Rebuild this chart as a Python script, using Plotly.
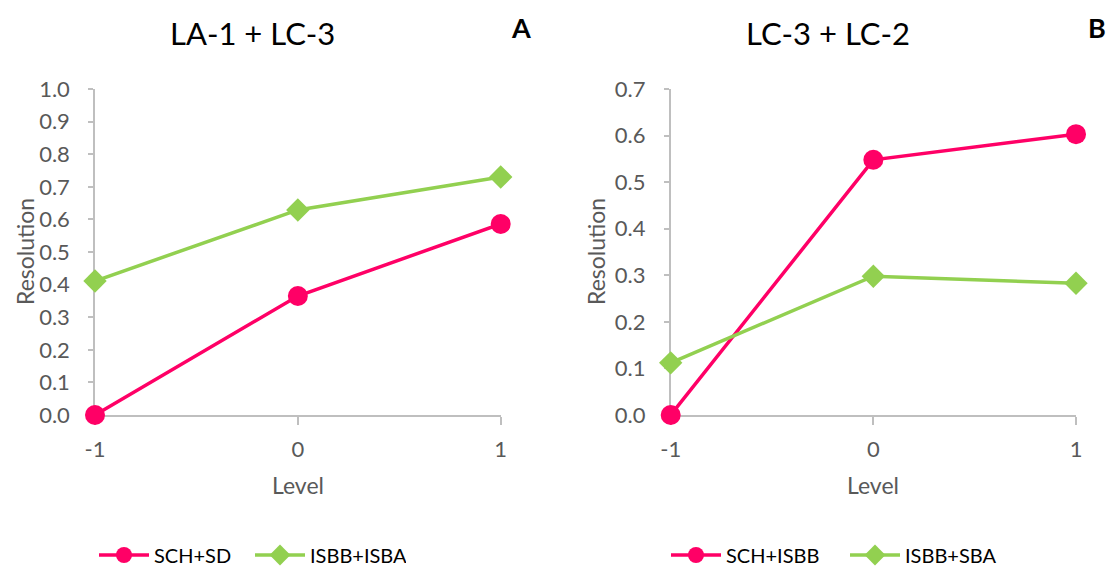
import plotly.graph_objects as go

levels = [-1, 0, 1]
a_sch_sd = [0.0, 0.365, 0.586]
a_isbb_isba = [0.411, 0.629, 0.730]
b_sch_isbb = [0.0, 0.548, 0.603]
b_isbb_sba = [0.112, 0.298, 0.283]

PINK = "#FF0066"
GREEN = "#92D050"
FONT = "Lato"
GRAY = "#595959"
AXC = "#BFBFBF"

fig = go.Figure()

def add(x, y, name, color, symbol, size, xa, ya, legend):
    fig.add_trace(go.Scatter(
        x=x, y=y, name=name, mode="lines+markers",
        line=dict(color=color, width=3.5),
        marker=dict(color=color, symbol=symbol, size=size),
        xaxis=xa, yaxis=ya, legend=legend, cliponaxis=False))

add(levels, a_sch_sd, "SCH+SD", PINK, "circle", 20, "x", "y", "legend")
add(levels, a_isbb_isba, "ISBB+ISBA", GREEN, "diamond", 18, "x", "y", "legend")
add(levels, b_sch_isbb, "SCH+ISBB", PINK, "circle", 20, "x2", "y2", "legend2")
add(levels, b_isbb_sba, "ISBB+SBA", GREEN, "diamond", 18, "x2", "y2", "legend2")

W, H = 1113, 569
ybot, ytop = (H - 415) / H, (H - 89) / H

xcommon = dict(range=[-1, 1], tickvals=[-1, 0, 1], ticktext=["-1", "0", "1"],
               showline=True, linecolor=AXC, linewidth=1.5, ticks="outside",
               ticklen=8, tickcolor=AXC, tickwidth=1.5, showgrid=False, zeroline=False,
               tickfont=dict(family=FONT, size=22, color=GRAY), ticklabelstandoff=6,
               automargin=False, layer="below traces")
ycommon = dict(dtick=0.1, tickformat=".1f",
               showline=True, linecolor=AXC, linewidth=1.5, ticks="outside", ticklen=5,
               tickcolor=AXC, tickwidth=1.5, showgrid=False, zeroline=False,
               tickfont=dict(family=FONT, size=22, color=GRAY), ticklabelstandoff=14,
               automargin=False, layer="below traces")

fig.update_layout(
    width=W, height=H, margin=dict(l=0, r=0, t=0, b=0, autoexpand=False),
    paper_bgcolor="white", plot_bgcolor="white",
    xaxis=dict(domain=[95 / W, 500.7 / W], anchor="y", **xcommon),
    xaxis2=dict(domain=[670.7 / W, 1076 / W], anchor="y2", **xcommon),
    yaxis=dict(domain=[ybot, ytop], anchor="x", range=[0, 1.0], **ycommon),
    yaxis2=dict(domain=[ybot, ytop], anchor="x2", range=[0, 0.7], **ycommon),
    legend=dict(orientation="h", x=94 / W, y=(H - 555) / H, yanchor="middle", xanchor="left",
                font=dict(family=FONT, size=20, color="#000000"), bgcolor="rgba(0,0,0,0)",
                entrywidth=91, entrywidthmode="pixels", tracegroupgap=0, itemwidth=50),
    legend2=dict(orientation="h", x=666 / W, y=(H - 555) / H, yanchor="middle", xanchor="left",
                 font=dict(family=FONT, size=20, color="#000000"), bgcolor="rgba(0,0,0,0)",
                 entrywidth=114, entrywidthmode="pixels", tracegroupgap=0, itemwidth=50),
    showlegend=True,
)

ann = [
    dict(text="LA-1 + LC-3", x=252 / W, y=(H - 33) / H, font=dict(size=31, color="#000000")),
    dict(text="LC-3 + LC-2", x=828 / W, y=(H - 33) / H, font=dict(size=31, color="#000000")),
    dict(text="<b>A</b>", x=521 / W, y=(H - 28) / H, font=dict(size=27, color="#000000")),
    dict(text="<b>B</b>", x=1097 / W, y=(H - 28) / H, font=dict(size=27, color="#000000")),
    dict(text="Level", x=298 / W, y=(H - 485) / H, font=dict(size=23, color=GRAY)),
    dict(text="Level", x=873 / W, y=(H - 485) / H, font=dict(size=23, color=GRAY)),
    dict(text="Resolution", x=25 / W, y=(H - 252) / H, textangle=-90, font=dict(size=23, color=GRAY)),
    dict(text="Resolution", x=596 / W, y=(H - 252) / H, textangle=-90, font=dict(size=23, color=GRAY)),
]
for a in ann:
    a["font"]["family"] = FONT
    fig.add_annotation(xref="paper", yref="paper", showarrow=False,
                       xanchor="center", yanchor="middle", **a)

fig.write_html("out.html")
